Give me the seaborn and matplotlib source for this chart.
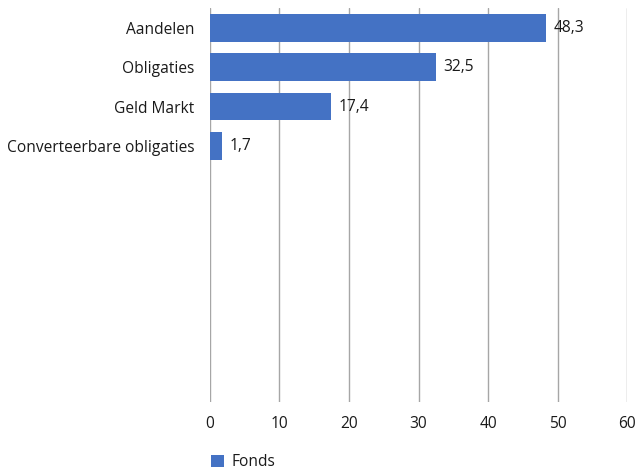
import matplotlib
matplotlib.use("Agg")
import matplotlib.pyplot as plt
from matplotlib.patches import Patch
import seaborn as sns
import pandas as pd

# data
categories = ["Aandelen", "Obligaties", "Geld Markt", "Converteerbare obligaties"]
values = [48.3, 32.5, 17.4, 1.7]
series_name = "Fonds"
x_ticks = [0, 10, 20, 30, 40, 50, 60]
n_slots = 10  # chart reserves room for 10 rows, only 4 filled

bar_color = "#4472C4"
grid_color = "#A6A6A6"
text_color = "#1A1A1A"
fs = 11.2

sns.set_theme(style="white")
plt.rcParams["font.family"] = ["Open Sans", "DejaVu Sans"]

df = pd.DataFrame({"categorie": categories, "waarde": values})

fig = plt.figure(figsize=(6.38, 4.73), dpi=100)
ax = fig.add_axes([0.329, 0.150, 0.654, 0.833])

sns.barplot(data=df, y="categorie", x="waarde", order=categories,
            color=bar_color, saturation=1, width=0.7, linewidth=0, ax=ax)

ax.set_xlim(0, 60)
ax.set_ylim(n_slots - 0.5, -0.5)
ax.set_xticks(x_ticks)
ax.set_xticklabels([str(t) for t in x_ticks], fontsize=fs, color=text_color)
ax.tick_params(axis="y", labelsize=fs, labelcolor=text_color, length=0, pad=11)
ax.tick_params(axis="x", length=0, pad=10)
ax.set_xlabel("")
ax.set_ylabel("")
for s in ax.spines.values():
    s.set_visible(False)
ax.grid(axis="x", color=grid_color, linewidth=1)
ax.set_axisbelow(True)

for i, v in enumerate(values):
    ax.text(v + 1.1, i, f"{v:.1f}".replace(".", ","), va="center", ha="left",
            fontsize=fs, color=text_color)

handle = Patch(facecolor=bar_color, edgecolor="none")
fig.legend([handle], [series_name], loc="lower left",
           bbox_to_anchor=(0.309, -0.024), frameon=False, fontsize=fs,
           handlelength=0.8, handleheight=0.8, handletextpad=0.5,
           labelcolor=text_color)

fig.savefig("out.png", dpi=100)
